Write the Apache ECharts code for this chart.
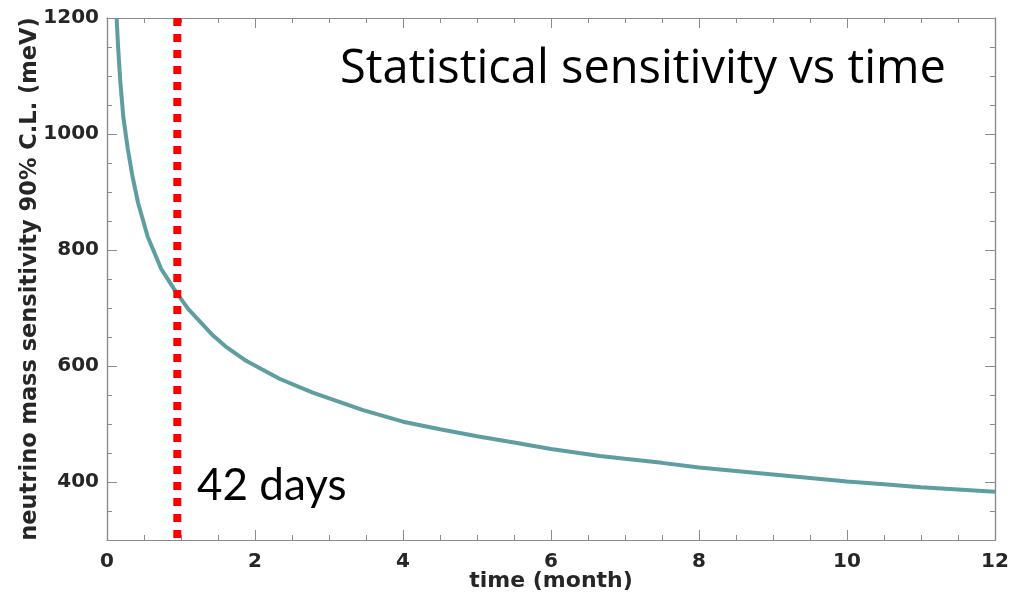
<!DOCTYPE html>
<html>
<head>
<meta charset="utf-8">
<script src="https://cdn.jsdelivr.net/npm/echarts@6/dist/echarts.min.js"></script>
<style>
  html, body { margin: 0; padding: 0; background: #fff; }
  #chart { width: 1010px; height: 598px; }
</style>
</head>
<body>
<div id="chart"></div>
<script>
// Measurement time in months and the resulting 90% C.L. sensitivity (meV)
const months = [0.13, 0.15, 0.18, 0.22, 0.28, 0.34, 0.42, 0.55, 0.73, 0.94, 1.1, 1.32, 1.43, 1.6, 1.88, 2.33, 2.78, 3.46, 4, 4.5, 5, 5.5, 6, 6.66, 7, 7.5, 8, 8.5, 9, 9.5, 10, 10.5, 11, 11.5, 12];
const sensitivity = [1200, 1150, 1090, 1030, 975, 930, 881, 823, 768, 726, 698, 668, 653, 634, 609, 578, 554, 524, 504, 491, 479, 468, 457, 445, 440, 433, 425, 419, 413, 407, 401, 396, 391, 387, 383];

// Vertical marker for the 42-day point
const markerMonth = 0.95;
const markerLabel = '42 days';

// Axis ranges and ticks
const xRange = [0, 12];
const yRange = [300, 1200];
const yMajorTicks = [400, 600, 800, 1000, 1200];

const titleText = 'Statistical sensitivity vs time';
const xName = 'time (month)';
const yName = 'neutrino mass sensitivity 90% C.L. (meV)';

const axisColor = '#8a8a8a';
const labelColor = '#262626';
const labelFont = { fontFamily: 'DejaVu Sans', fontWeight: 'bold', fontSize: 20, color: labelColor };
const plain = v => String(v);

const curve = months.map((m, i) => [m, sensitivity[i]]);
const marker = [[markerMonth, yRange[1]], [markerMonth, yRange[0]]];

const chart = echarts.init(document.getElementById('chart'), null, { renderer: 'canvas' });

const baseLine = { show: true, onZero: false, lineStyle: { color: axisColor, width: 1.2 } };

chart.setOption({
  animation: false,
  backgroundColor: '#ffffff',
  grid: { left: 107, right: 15, top: 18, bottom: 58, containLabel: false, outerBoundsMode: 'none' },
  xAxis: [
    {
      type: 'value', position: 'bottom', min: xRange[0], max: xRange[1], interval: 2,
      name: xName, nameLocation: 'middle', nameGap: 30, nameMoveOverlap: false,
      nameTextStyle: { fontFamily: 'DejaVu Sans', fontWeight: 'bold', fontSize: 22, color: labelColor, verticalAlign: 'top' },
      axisLine: baseLine,
      axisTick: { show: true, inside: true, length: 10, lineStyle: { color: axisColor } },
      minorTick: { show: true, splitNumber: 4, length: 5, lineStyle: { color: axisColor } },
      axisLabel: Object.assign({ margin: 12, formatter: plain }, labelFont),
      splitLine: { show: false }, minorSplitLine: { show: false }
    },
    {
      type: 'value', position: 'top', min: xRange[0], max: xRange[1], interval: 2,
      axisLine: baseLine,
      axisTick: { show: true, inside: true, length: 10, lineStyle: { color: axisColor } },
      minorTick: { show: true, splitNumber: 4, length: 5, lineStyle: { color: axisColor } },
      axisLabel: { show: false },
      splitLine: { show: false }
    }
  ],
  yAxis: [
    {
      type: 'value', position: 'left', min: yRange[0], max: yRange[1],
      name: yName, nameLocation: 'middle', nameGap: 65, nameRotate: 90, nameMoveOverlap: false,
      nameTextStyle: { fontFamily: 'DejaVu Sans', fontWeight: 'bold', fontSize: 22.5, color: labelColor },
      axisLine: baseLine,
      axisTick: { show: true, inside: true, length: 10, customValues: yMajorTicks, lineStyle: { color: axisColor } },
      axisLabel: Object.assign({ margin: 8, customValues: yMajorTicks, formatter: plain }, labelFont),
      splitLine: { show: false }
    },
    {
      type: 'value', position: 'left', min: yRange[0], max: yRange[1], interval: 50,
      axisLine: baseLine,
      axisTick: { show: true, inside: true, length: 5, lineStyle: { color: axisColor } },
      axisLabel: { show: false }, splitLine: { show: false }
    },
    {
      type: 'value', position: 'right', min: yRange[0], max: yRange[1],
      axisLine: baseLine,
      axisTick: { show: true, inside: true, length: 10, customValues: yMajorTicks, lineStyle: { color: axisColor } },
      axisLabel: { show: false }, splitLine: { show: false }
    },
    {
      type: 'value', position: 'right', min: yRange[0], max: yRange[1], interval: 50,
      axisLine: baseLine,
      axisTick: { show: true, inside: true, length: 5, lineStyle: { color: axisColor } },
      axisLabel: { show: false }, splitLine: { show: false }
    }
  ],
  series: [
    {
      type: 'line', xAxisIndex: 0, yAxisIndex: 0, data: curve,
      showSymbol: false, symbol: 'none', smooth: false, clip: true,
      lineStyle: { color: '#5f9ea0', width: 4 }, z: 3
    },
    {
      type: 'line', xAxisIndex: 0, yAxisIndex: 0, data: marker,
      showSymbol: false, symbol: 'none', clip: true,
      lineStyle: { color: '#ff0000', width: 8, type: [8, 8], cap: 'butt' }, z: 4
    }
  ],
  graphic: [
    {
      type: 'text', left: 340, top: 46,
      style: { text: titleText, fontFamily: 'Open Sans', fontSize: 47, fill: '#000000' }
    },
    {
      type: 'text', left: 197, top: 464,
      style: { text: markerLabel, fontFamily: 'Lato', fontSize: 44, fill: '#000000' }
    }
  ]
});
</script>
</body>
</html>
